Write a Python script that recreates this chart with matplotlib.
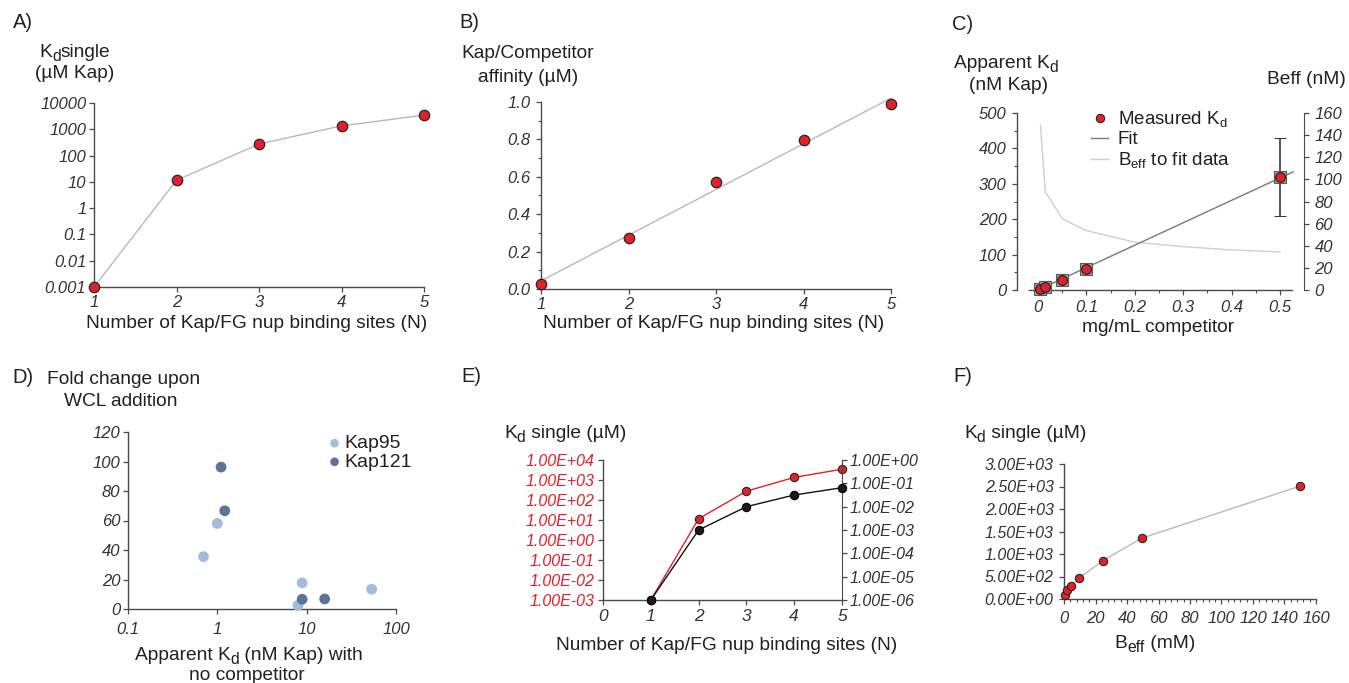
import numpy as np
import matplotlib
matplotlib.use("Agg")
import matplotlib.pyplot as plt
from matplotlib.ticker import FixedLocator, FixedFormatter, MultipleLocator, NullLocator
from matplotlib.lines import Line2D

# ---------------- data ----------------
# A / E: single-site Kd versus number of binding sites
n_sites = [1, 2, 3, 4, 5]
kd_single = [0.001, 11.5, 275, 1350, 3450]          # µM
kd_single_alt = [1e-6, 1e-3, 1e-2, 0.0316, 0.065]   # right axis in E

# B: Kap/competitor affinity
affinity = [0.028, 0.275, 0.572, 0.797, 0.989]       # µM

# C: apparent Kd vs competitor concentration
competitor = [0.005, 0.015, 0.05, 0.1, 0.5]          # mg/mL
apparent_kd = [2, 7.5, 28, 58.5, 318]                # nM
apparent_kd_err = [2, 3, 4, 6, 110]
beff_conc = [0.005, 0.015, 0.05, 0.1, 0.2, 0.3, 0.4, 0.5]
beff_fit = [149, 89, 64.5, 53.7, 43.2, 39.2, 36.2, 34.4]   # nM

# D: fold change upon WCL addition
kap95_kd = [0.70, 1.0, 8.9, 8.0, 53.4]
kap95_fold = [35.5, 58, 17.7, 2.5, 13.4]
kap121_kd = [1.10, 1.21, 8.9, 15.9]
kap121_fold = [96.2, 66.6, 6.6, 6.8]

# F: Kd single vs Beff
beff_mm = [0.6, 1.9, 4.4, 9.5, 24.6, 49.3, 149.6]
kd_vs_beff = [96, 192, 296, 458, 850, 1352, 2505]

# ---------------- style ----------------
plt.rcParams['font.family'] = ['Liberation Sans', 'DejaVu Sans']
plt.rcParams['mathtext.fontset'] = 'custom'
plt.rcParams['mathtext.rm'] = 'Liberation Sans'
plt.rcParams['mathtext.it'] = 'Liberation Sans:italic'
plt.rcParams['mathtext.default'] = 'rm'

RED = '#e3202a'
EDGE = '#262626'
LGRAY = '#b9b9b9'
DGRAY = '#7a7a7a'
TXT = '#231f20'
SPINE = '#4a4a4a'
K95 = '#a3bcd9'
K121 = '#5b7299'
LBL = 13.8   # axis title size
PNL = 14.5   # panel letter size

W, H = 1349, 683
fig = plt.figure(figsize=(W / 100, H / 100), dpi=100)
renderer = fig.canvas.get_renderer()


def axes_px(x0, y0, x1, y1):
    return fig.add_axes([x0 / W, 1 - y1 / H, (x1 - x0) / W, (y1 - y0) / H])


def text_px(x, y, s, size=LBL, color=TXT, ha='center', va='center', **kw):
    fig.text(x / W, 1 - y / H, s, fontsize=size, color=color, ha=ha, va=va, **kw)


def rich_px(x, y, parts, size=LBL, color=TXT):
    """Centred text made of (string, subscript?) pieces; y is the visual middle."""
    px_per_pt = 100 / 72
    baseline = y + 0.36 * size * px_per_pt
    items = []
    total = 0.0
    for s, sub in parts:
        fs = size * 0.82 if sub else size
        t = fig.text(0, 0, s, fontsize=fs, color=color, ha='left', va='baseline')
        w = t.get_window_extent(renderer).width
        items.append((t, sub, w))
        total += w
    cur = x - total / 2
    for t, sub, w in items:
        yb = baseline + (0.22 * size * px_per_pt if sub else 0)
        t.set_position((cur / W, 1 - yb / H))
        cur += w


def style_ax(ax, tick_size=11.5):
    for side in ('top', 'right'):
        ax.spines[side].set_visible(False)
    for side in ('left', 'bottom'):
        ax.spines[side].set_color(SPINE)
        ax.spines[side].set_linewidth(1.0)
    ax.tick_params(direction='out', length=3.5, width=0.9, color=SPINE,
                   labelsize=tick_size, labelcolor='#333333', pad=2)
    ax.tick_params(which='minor', direction='out', length=2.5, width=0.8, color=SPINE)
    ax.set_facecolor('none')


def italic_ticks(ax):
    for lab in ax.get_xticklabels() + ax.get_yticklabels():
        lab.set_fontstyle('italic')


# ---------------- A ----------------
axA = axes_px(94, 103, 424, 287)
axA.plot(n_sites, kd_single, color=LGRAY, lw=1.0, zorder=2, clip_on=False)
axA.plot(n_sites, kd_single, 'o', ms=7.5, mfc=RED, mec=EDGE, mew=0.9, zorder=3, clip_on=False)
axA.set_yscale('log')
axA.set_xlim(1, 5)
axA.set_ylim(1e-3, 1e4)
decades = [1e-3, 1e-2, 1e-1, 1, 10, 100, 1000, 10000]
axA.yaxis.set_major_locator(FixedLocator(decades))
axA.yaxis.set_major_formatter(FixedFormatter(['0.001', '0.01', '0.1', '1', '10', '100', '1000', '10000']))
axA.yaxis.set_minor_locator(NullLocator())
axA.set_xticks(n_sites)
style_ax(axA, tick_size=12)
italic_ticks(axA)
text_px(23, 23, 'A)', size=PNL)
rich_px(75, 50, [('K', False), ('d', True), ('single', False)])
text_px(75, 74, '(µM Kap)')
text_px(257, 323, 'Number of Kap/FG nup binding sites (N)')

# ---------------- B ----------------
axB = axes_px(541, 102, 891, 289)
coef = np.polyfit(n_sites, affinity, 1)
fit_x = np.array([n_sites[0], n_sites[-1]])
axB.plot(fit_x, np.polyval(coef, fit_x), color=LGRAY, lw=1.0, zorder=2, clip_on=False)
axB.plot(n_sites, affinity, 'o', ms=7.5, mfc=RED, mec=EDGE, mew=0.9, zorder=3, clip_on=False)
axB.set_xlim(1, 5)
axB.set_ylim(0, 1.0)
axB.set_xticks(n_sites)
axB.yaxis.set_major_locator(MultipleLocator(0.2))
axB.yaxis.set_minor_locator(MultipleLocator(0.1))
axB.yaxis.set_major_formatter(plt.FuncFormatter(lambda v, p: f'{v:.1f}'))
style_ax(axB, tick_size=12)
axB.tick_params(axis='y', pad=4)
italic_ticks(axB)
text_px(469, 23, 'B)', size=PNL)
text_px(528, 54, 'Kap/Competitor')
text_px(528, 77, 'affinity (µM)')
text_px(714, 323, 'Number of Kap/FG nup binding sites (N)')

# ---------------- C ----------------
axC = axes_px(1017, 113, 1304, 290)
x_lo, x_hi = -0.0434, 0.5496
axC.set_xlim(x_lo, x_hi)
axC.set_ylim(0, 500)
slope = np.sum(np.multiply(competitor, apparent_kd)) / np.sum(np.square(competitor))
line_x = np.array([0.0, 0.527])
axC.plot(line_x, slope * line_x, color=DGRAY, lw=1.0, zorder=2)
axC.errorbar(competitor, apparent_kd, yerr=apparent_kd_err, fmt='s', ms=8.5,
             mfc='#a0a0a0', mec='#5a5a5a', mew=0.8, ecolor='#3a3a3a', elinewidth=1.2,
             capsize=4, capthick=1.2, zorder=3, clip_on=False)
axC.plot(competitor, apparent_kd, 'o', ms=7, mfc=RED, mec=EDGE, mew=0.9, zorder=4, clip_on=False)
style_ax(axC, tick_size=12)
axC.spines['bottom'].set_bounds(-0.019, 0.525)
axC.xaxis.set_major_locator(MultipleLocator(0.1))
axC.xaxis.set_minor_locator(MultipleLocator(0.05))
axC.xaxis.set_major_formatter(plt.FuncFormatter(lambda v, p: '0' if abs(v) < 1e-9 else f'{v:.1f}'))
axC.yaxis.set_major_locator(MultipleLocator(100))
axC.yaxis.set_minor_locator(MultipleLocator(50))
axC.tick_params(axis='x', pad=4)
axC.tick_params(axis='y', pad=4)
italic_ticks(axC)

axC2 = axC.twinx()
axC2.set_ylim(0, 160)
axC2.plot(beff_conc, beff_fit, color='#cfcfcf', lw=1.0, zorder=1)
for side in ('top', 'left', 'bottom'):
    axC2.spines[side].set_visible(False)
axC2.spines['right'].set_color(SPINE)
axC2.yaxis.set_major_locator(MultipleLocator(20))
axC2.tick_params(direction='out', length=3.5, width=0.9, color=SPINE,
                 labelsize=12, labelcolor='#333333', pad=4)
italic_ticks(axC2)
axC.set_zorder(axC2.get_zorder() + 1)
axC.patch.set_visible(False)

leg_handles = [
    Line2D([], [], ls='none', marker='o', ms=6, mfc=RED, mec=EDGE, mew=0.8),
    Line2D([], [], color=DGRAY, lw=1.0),
    Line2D([], [], color='#cfcfcf', lw=1.0),
]
axC.legend(leg_handles, [r'Measured K$_{\mathrm{d}}$', 'Fit', r'B$_{\mathrm{eff}}$ to fit data'],
           loc='upper left', bbox_to_anchor=(1082 / W, 1 - 100 / H), bbox_transform=fig.transFigure,
           frameon=False, fontsize=13.5, handlelength=0.9, handletextpad=0.5,
           labelspacing=0.1, borderpad=0, labelcolor=TXT)
text_px(963, 24, 'C)', size=PNL)
rich_px(1006, 61, [('Apparent K', False), ('d', True)])
text_px(1009, 86, '(nM Kap)')
text_px(1306, 80, 'Beff (nM)')
text_px(1158, 328, 'mg/mL competitor')

# ---------------- D ----------------
axD = axes_px(128, 432, 396, 609)
axD.set_xscale('log')
axD.set_xlim(0.1, 100)
axD.set_ylim(0, 120)
axD.scatter(kap95_kd, kap95_fold, s=60, color=K95, edgecolors='none', zorder=3, clip_on=False, label='Kap95')
axD.scatter(kap121_kd, kap121_fold, s=60, color=K121, edgecolors='none', zorder=3, clip_on=False, label='Kap121')
axD.xaxis.set_major_locator(FixedLocator([0.1, 1, 10, 100]))
axD.xaxis.set_major_formatter(FixedFormatter(['0.1', '1', '10', '100']))
axD.xaxis.set_minor_locator(NullLocator())
axD.yaxis.set_major_locator(MultipleLocator(20))
style_ax(axD, tick_size=12)
italic_ticks(axD)
axD.tick_params(axis='x', pad=6)
axD.legend(loc='upper left', bbox_to_anchor=(319 / W, 1 - 425 / H), bbox_transform=fig.transFigure,
           frameon=False, fontsize=14, handlelength=0.6, handletextpad=0.2, labelspacing=0.05,
           borderpad=0, markerscale=0.8, labelcolor=TXT)
text_px(23, 377, 'D)', size=PNL)
text_px(124, 379, 'Fold change upon')
text_px(121, 402, 'WCL addition')
rich_px(249, 653, [('Apparent K', False), ('d', True), (' (nM Kap) with', False)])
text_px(247, 676, 'no competitor')

# ---------------- E ----------------
axE = axes_px(603, 460, 842, 600)
axE.set_xlim(0, 5)
axE.set_yscale('log')
axE.set_ylim(1e-3, 1e4)
axE.plot(n_sites, kd_single, color=RED, lw=1.0, zorder=3, clip_on=False)
axE.plot(n_sites, kd_single, 'o', ms=6, mfc=RED, mec=EDGE, mew=0.8, zorder=4, clip_on=False)
e_left = [1e-3, 1e-2, 1e-1, 1e0, 1e1, 1e2, 1e3, 1e4]
axE.yaxis.set_major_locator(FixedLocator(e_left))
axE.yaxis.set_major_formatter(FixedFormatter(['1.00E-03', '1.00E-02', '1.00E-01', '1.00E+00',
                                              '1.00E+01', '1.00E+02', '1.00E+03', '1.00E+04']))
axE.yaxis.set_minor_locator(NullLocator())
axE.set_xticks([0, 1, 2, 3, 4, 5])
style_ax(axE, tick_size=11.5)
axE.tick_params(axis='y', labelcolor=RED, pad=3)
axE.tick_params(axis='x', labelsize=12.5, pad=3)
italic_ticks(axE)

axE2 = axE.twinx()
axE2.set_yscale('log')
axE2.set_ylim(1e-6, 1e0)
axE2.plot(n_sites, kd_single_alt, color='#111111', lw=1.0, zorder=3, clip_on=False)
axE2.plot(n_sites, kd_single_alt, 'o', ms=6, mfc='#1a1a1a', mec='#000000', mew=0.8, zorder=4, clip_on=False)
e_right = [1e-6, 1e-5, 1e-4, 1e-3, 1e-2, 1e-1, 1e0]
axE2.yaxis.set_major_locator(FixedLocator(e_right))
axE2.yaxis.set_major_formatter(FixedFormatter(['1.00E-06', '1.00E-05', '1.00E-04', '1.00E-03',
                                               '1.00E-02', '1.00E-01', '1.00E+00']))
axE2.yaxis.set_minor_locator(NullLocator())
for side in ('top', 'left', 'bottom'):
    axE2.spines[side].set_visible(False)
axE2.spines['right'].set_color(SPINE)
axE2.tick_params(direction='out', length=3.5, width=0.9, color=SPINE,
                 labelsize=11.5, labelcolor='#333333', pad=2)
italic_ticks(axE2)
text_px(471, 376, 'E)', size=PNL)
rich_px(565, 431, [('K', False), ('d', True), (' single (µM)', False)])
text_px(727, 645, 'Number of Kap/FG nup binding sites (N)')

# ---------------- F ----------------
axF = axes_px(1064, 464, 1316, 599)
axF.set_xlim(0, 160)
axF.set_ylim(0, 3000)
axF.plot(beff_mm, kd_vs_beff, color=LGRAY, lw=1.0, zorder=2, clip_on=False)
axF.plot(beff_mm, kd_vs_beff, 'o', ms=6, mfc=RED, mec=EDGE, mew=0.8, zorder=3, clip_on=False)
axF.xaxis.set_major_locator(MultipleLocator(20))
axF.xaxis.set_minor_locator(MultipleLocator(4))
axF.yaxis.set_major_locator(MultipleLocator(500))
axF.yaxis.set_major_formatter(plt.FuncFormatter(lambda v, p: f'{v:.2E}'))
style_ax(axF, tick_size=11.5)
axF.tick_params(axis='y', pad=4)
axF.tick_params(axis='x', labelsize=12, pad=5)
italic_ticks(axF)
text_px(963, 376, 'F)', size=PNL)
rich_px(1025, 431, [('K', False), ('d', True), (' single (µM)', False)])
rich_px(1155, 641, [('B', False), ('eff', True), (' (mM)', False)])

fig.savefig('out.png', dpi=100)
